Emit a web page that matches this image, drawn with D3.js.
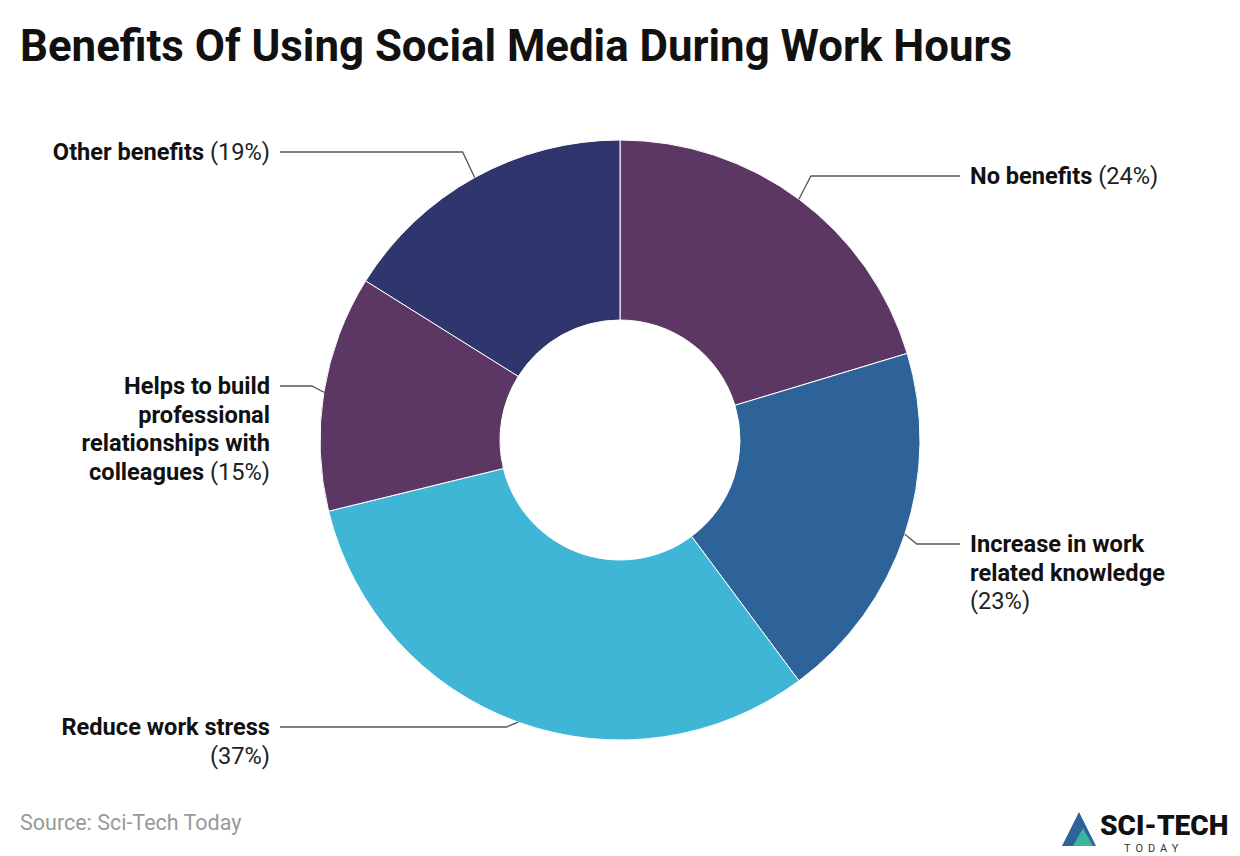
<!DOCTYPE html>
<html><head><meta charset="utf-8">
<script src="https://cdn.jsdelivr.net/npm/d3@7"></script>
<style>body{margin:0;background:#fff;font-family:Roboto,sans-serif}</style>
</head><body><svg id="c" width="1240" height="856"></svg>
<script>
// data
var categories = ["No benefits", "Increase in work related knowledge", "Reduce work stress",
    "Helps to build professional relationships with colleagues", "Other benefits"];
var values = [24, 23, 37, 15, 19];
var colors = ["#5c3764", "#2e6399", "#40b6d6", "#5c3764", "#2f356d"];
// label text lines (bold part, last line carries the percentage)
var labelLines = [
    ["No benefits"],
    ["Increase in work", "related knowledge", ""],
    ["Reduce work stress", ""],
    ["Helps to build", "professional", "relationships with", "colleagues"],
    ["Other benefits"]
];

var svg = d3.select("#c");
var cx = 620, cy = 440, R = 300, r0 = 120;

svg.append("text").attr("x", 20).attr("y", 61).attr("font-size", 43.8).attr("font-weight", 700)
    .attr("fill", "#111").text("Benefits Of Using Social Media During Work Hours");

var pie = d3.pie().sort(null).value(function(d){ return d; });
var arcs = pie(values);
var arc = d3.arc().innerRadius(r0).outerRadius(R);
var g = svg.append("g").attr("transform", "translate(" + cx + "," + cy + ")");
g.selectAll("path").data(arcs).enter().append("path")
    .attr("d", arc).attr("fill", function(d, i){ return colors[i]; })
    .attr("stroke", "#fff").attr("stroke-width", 1);

// label layout: side, elbow y, text x
var layout = [
    {side: 1, y: 176, x: 970},
    {side: 1, y: 544, x: 970},
    {side: -1, y: 727, x: 270},
    {side: -1, y: 386, x: 270},
    {side: -1, y: 152, x: 270}
];

arcs.forEach(function(a, i) {
    var m = (a.startAngle + a.endAngle) / 2;
    var px = cx + R * Math.sin(m), py = cy - R * Math.cos(m);
    var L = layout[i];
    var ex = px + L.side * 12, endX = L.x - L.side * 10;
    svg.append("polyline").attr("points", [[px, py], [ex, L.y], [endX, L.y]].map(String).join(" "))
        .attr("fill", "none").attr("stroke", "#555").attr("stroke-width", 1.3);
    var t = svg.append("text").attr("x", L.x).attr("font-size", 23.6).attr("fill", "#111")
        .attr("text-anchor", L.side > 0 ? "start" : "end");
    var lines = labelLines[i];
    lines.forEach(function(s, k) {
        var ts = t.append("tspan").attr("x", L.x).attr("y", L.y + 8 + k * 28.5);
        ts.append("tspan").attr("font-weight", 700).text(s);
        if (k === lines.length - 1)
            ts.append("tspan").attr("font-weight", 400).attr("fill", "#222")
              .text((s ? " " : "") + "(" + values[i] + "%)");
    });
});

svg.append("text").attr("x", 20).attr("y", 830).attr("font-size", 21.5).attr("fill", "#999")
    .text("Source: Sci-Tech Today");

// logo
var lg = svg.append("g").attr("transform", "translate(1062,808)");
lg.append("path").attr("d", "M0,38 L17,4 L34,38 Z").attr("fill", "#2e6399");
lg.append("path").attr("d", "M11,38 L21,20 L31,38 Z").attr("fill", "#3db39e");
lg.append("text").attr("x", 38).attr("y", 27).attr("font-size", 28).attr("font-weight", 900)
    .attr("fill", "#111").text("SCI-TECH");
lg.append("text").attr("x", 62).attr("y", 44).attr("font-size", 11).attr("letter-spacing", 5)
    .attr("fill", "#333").text("TODAY");
</script></body></html>
